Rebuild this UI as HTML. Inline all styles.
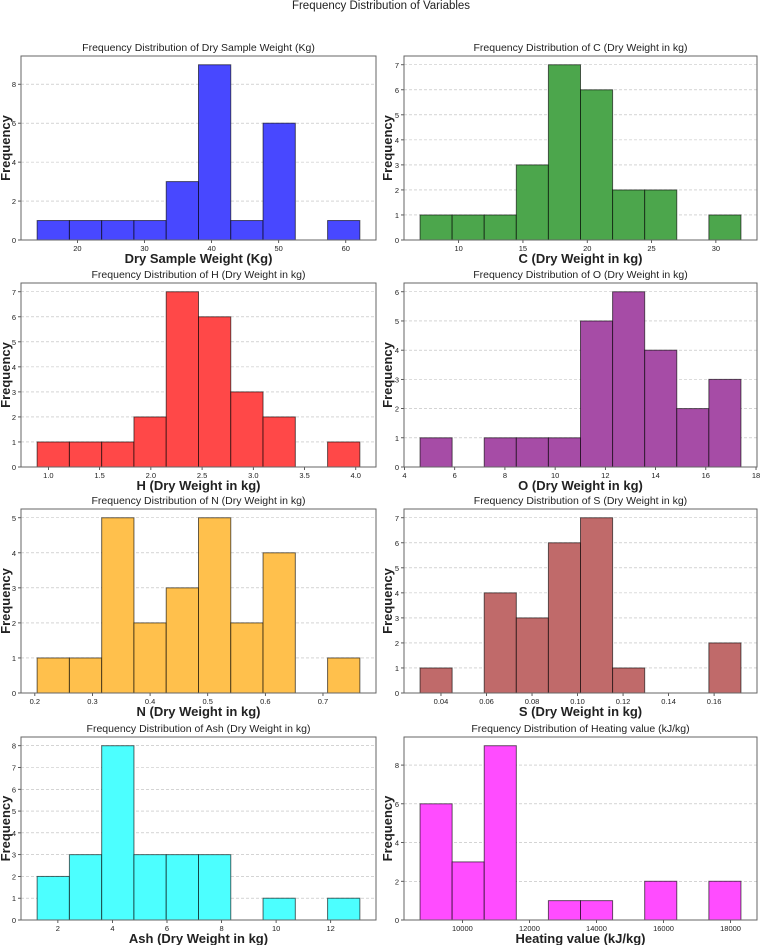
<!DOCTYPE html>
<html><head><meta charset="utf-8">
<style>
body{margin:0;background:#fff;}
svg text{font-family:"Liberation Sans","DejaVu Sans",sans-serif;fill:#222;}
</style></head>
<body>
<svg id="chart" width="762" height="945" viewBox="0 0 762 945" xmlns="http://www.w3.org/2000/svg">
<text x="381" y="9" text-anchor="middle" font-size="11.5">Frequency Distribution of Variables</text>
</svg>
<script>
// panel data
const titles = ["Frequency Distribution of Dry Sample Weight (Kg)","Frequency Distribution of C (Dry Weight in kg)","Frequency Distribution of H (Dry Weight in kg)","Frequency Distribution of O (Dry Weight in kg)","Frequency Distribution of N (Dry Weight in kg)","Frequency Distribution of S (Dry Weight in kg)","Frequency Distribution of Ash (Dry Weight in kg)","Frequency Distribution of Heating value (kJ/kg)"];
const xLabels = ["Dry Sample Weight (Kg)","C (Dry Weight in kg)","H (Dry Weight in kg)","O (Dry Weight in kg)","N (Dry Weight in kg)","S (Dry Weight in kg)","Ash (Dry Weight in kg)","Heating value (kJ/kg)"];
const binMin = [14, 7, 0.89, 4.62, 0.204, 0.0308, 1.24, 8736];
const binMax = [62.1, 31.95, 4.04, 17.4, 0.764, 0.1718, 13.07, 18310];
const countsDry = [1,1,1,1,3,9,1,6,0,1];
const countsC = [1,1,1,3,7,6,2,2,0,1];
const countsH = [1,1,1,2,7,6,3,2,0,1];
const countsO = [1,0,1,1,1,5,6,4,2,3];
const countsN = [1,1,5,2,3,5,2,4,0,1];
const countsS = [1,0,4,3,6,7,1,0,0,2];
const countsAsh = [2,3,8,3,3,3,0,1,0,1];
const countsHeat = [6,3,9,0,1,1,0,2,0,2];
const xTicksDry = [20,30,40,50,60];
const xTicksC = [10,15,20,25,30];
const xTicksH = ["1.0","1.5","2.0","2.5","3.0","3.5","4.0"];
const xTicksO = [4,6,8,10,12,14,16,18];
const xTicksN = ["0.2","0.3","0.4","0.5","0.6","0.7"];
const xTicksS = ["0.04","0.06","0.08","0.10","0.12","0.14","0.16"];
const xTicksAsh = [2,4,6,8,10,12];
const xTicksHeat = [10000,12000,14000,16000,18000];
const yStep = [2,1,1,1,1,1,1,2];
const colors = ["#4848ff","#4ca64c","#ff4848","#a64ca6","#ffc04c","#c06a6a","#4cffff","#ff4cff"];
const allCounts = [countsDry,countsC,countsH,countsO,countsN,countsS,countsAsh,countsHeat];
const allTicks = [xTicksDry,xTicksC,xTicksH,xTicksO,xTicksN,xTicksS,xTicksAsh,xTicksHeat];

const NS = "http://www.w3.org/2000/svg";
const svg = document.getElementById('chart');
function mk(tag, attrs, parent){const e=document.createElementNS(NS,tag);for(const k in attrs)e.setAttribute(k,attrs[k]);(parent||svg).appendChild(e);return e;}
const colX = [[21,376],[404,757]];
const rowY = [[56,240],[283,467],[509,693],[737,920]];

for(let p=0;p<8;p++){
  const [L,R] = colX[p%2], [T,B] = rowY[Math.floor(p/2)];
  const g = mk('g',{});
  
  
  const counts = allCounts[p];
  const mn = binMin[p], mx = binMax[p], rng = mx-mn;
  const x0 = mn-0.05*rng, x1 = mx+0.05*rng;
  const ymax = Math.max(...counts)*1.05;
  const sx = v => L+(v-x0)/(x1-x0)*(R-L);
  const sy = v => B-(v/ymax)*(B-T);
  // grid + y ticks
  for(let v=0; v<=ymax; v+=yStep[p]){
    const y=sy(v);
    if(v>0){const gl=mk('line',{x1:L,x2:R,y1:y,y2:y,stroke:'#bbb','stroke-width':0.6,'stroke-dasharray':'3,2'},g);
      
      }
    mk('line',{x1:L-3,x2:L,y1:y,y2:y,stroke:'#333','stroke-width':0.8},g);
    const t=mk('text',{x:L-5,y:y+3,'text-anchor':'end','font-size':7.5},g);
    t.textContent=v;
    
    
  }
  // bars
  const w = rng/counts.length;
  counts.forEach((c,i)=>{
    if(c<=0) return;
    const xa=sx(mn+i*w), xb=sx(mn+(i+1)*w);
    const r=mk('rect',{x:xa,y:sy(c),width:xb-xa,height:sy(0)-sy(c),fill:colors[p],stroke:'rgba(0,0,0,0.6)','stroke-width':1},g);
    
    
  });
  // x ticks
  allTicks[p].forEach(tv=>{
    const x=sx(parseFloat(tv));
    mk('line',{x1:x,x2:x,y1:B,y2:B+3,stroke:'#333','stroke-width':0.8},g);
    const t=mk('text',{x:x,y:B+11,'text-anchor':'middle','font-size':7.5},g);
    t.textContent=tv;
    
    
  });
  // frame
  const f=mk('rect',{x:L,y:T,width:R-L,height:B-T,fill:'none',stroke:'#666','stroke-width':1},g);
  
  
  const tt=mk('text',{x:(L+R)/2,y:T-5,'text-anchor':'middle','font-size':10.5},g);
  tt.textContent=titles[p];
  
  
  const xl=mk('text',{x:(L+R)/2,y:B+23,'text-anchor':'middle','font-size':13,'font-weight':'bold'},g);
  xl.textContent=xLabels[p];
  
  
  const lx = p%2===0 ? 10 : 392;
  const yl=mk('text',{x:lx,y:(T+B)/2,'text-anchor':'middle','font-size':13,'font-weight':'bold',transform:`rotate(-90 ${lx} ${(T+B)/2})`},g);
  yl.textContent='Frequency';
  
  
}
</script>
</body></html>
